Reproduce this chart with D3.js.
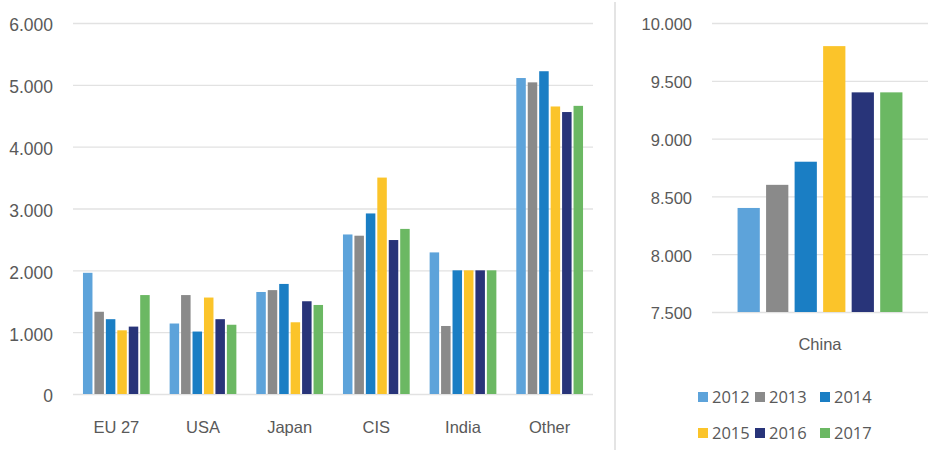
<!DOCTYPE html>
<html>
<head>
<meta charset="utf-8">
<script src="https://cdn.jsdelivr.net/npm/d3@7"></script>
<style>
  html, body { margin: 0; padding: 0; background: #fff; }
  svg { display: block; font-family: "Open Sans", "Noto Sans", sans-serif; }
  .tick text { fill: #595959; }
</style>
</head>
<body>
<svg id="chart" width="931" height="450"></svg>
<script>
// Regions on the left panel, China on its own panel
const categories = ["EU 27", "USA", "Japan", "CIS", "India", "Other"];
const years = ["2012", "2013", "2014", "2015", "2016", "2017"];

const v2012 = [1960, 1140, 1650, 2580, 2290, 5110];
const v2013 = [1330, 1600, 1680, 2560, 1100, 5040];
const v2014 = [1210, 1010, 1780, 2920, 2000, 5220];
const v2015 = [1030, 1560, 1160, 3500, 2000, 4650];
const v2016 = [1090, 1210, 1500, 2490, 2000, 4560];
const v2017 = [1600, 1120, 1440, 2670, 2000, 4660];

const chinaCategory = ["China"];
const chinaValues = [8400, 8600, 8800, 9800, 9400, 9400];

const leftTicks = [0, 1000, 2000, 3000, 4000, 5000, 6000];
const rightTicks = [7500, 8000, 8500, 9000, 9500, 10000];

const colors = ["#5DA3DA", "#8A8A8A", "#1A7EC4", "#FBC42A", "#283479", "#6BB863"];

const series = [v2012, v2013, v2014, v2015, v2016, v2017];
const svg = d3.select("#chart");
const fmt = d => d3.format(",")(d).replace(/,/g, ".");

// ---------- left panel ----------
const L = { x0: 73, x1: 593, y0: 394, y1: 23 };
const yL = d3.scaleLinear().domain([0, 6000]).range([L.y0, L.y1]);
const xL = d3.scaleBand().domain(categories).range([L.x0, L.x1])
  .paddingInner(0.23).paddingOuter(0.115);
const xL1 = d3.scaleBand().domain(years).range([0, xL.bandwidth()]).paddingInner(0.17);

const leftAxis = svg.append("g").attr("transform", `translate(${L.x0},0)`)
  .call(d3.axisLeft(yL).tickValues(leftTicks).tickFormat(fmt)
    .tickSize(-(L.x1 - L.x0)).tickPadding(20));
leftAxis.select(".domain").remove();
leftAxis.selectAll(".tick line").attr("stroke", "#e2e2e2").attr("stroke-width", 1.3);
leftAxis.selectAll(".tick text").attr("font-size", 17.5).attr("dy", "0.45em");

const groups = svg.append("g").selectAll("g").data(categories).join("g")
  .attr("transform", d => `translate(${xL(d)},0)`);
groups.selectAll("rect")
  .data((c, i) => years.map((yr, k) => ({ yr, v: series[k][i], k })))
  .join("rect")
  .attr("x", d => xL1(d.yr))
  .attr("width", xL1.bandwidth())
  .attr("y", d => yL(d.v))
  .attr("height", d => yL(0) - yL(d.v))
  .attr("fill", d => colors[d.k]);

const bottomL = svg.append("g").attr("transform", `translate(0,${L.y0})`)
  .call(d3.axisBottom(xL).tickSize(0).tickPadding(27));
bottomL.select(".domain").remove();
bottomL.selectAll(".tick text").attr("font-size", 16.5);

// ---------- separator ----------
svg.append("line").attr("x1", 615).attr("x2", 615).attr("y1", 2).attr("y2", 450)
  .attr("stroke", "#e4e4e4").attr("stroke-width", 2);

// ---------- right panel ----------
const R = { x0: 712, x1: 928, y0: 312, y1: 23 };
const yR = d3.scaleLinear().domain([7500, 10000]).range([R.y0, R.y1]);
const xR = d3.scaleBand().domain(chinaCategory).range([R.x0, R.x1])
  .paddingInner(0).paddingOuter(0.155);
const xR1 = d3.scaleBand().domain(years).range([0, xR.bandwidth()]).paddingInner(0.22);

const rightAxis = svg.append("g").attr("transform", `translate(${R.x0},0)`)
  .call(d3.axisLeft(yR).tickValues(rightTicks).tickFormat(fmt)
    .tickSize(-(R.x1 - R.x0)).tickPadding(20));
rightAxis.select(".domain").remove();
rightAxis.selectAll(".tick line").attr("stroke", "#e2e2e2").attr("stroke-width", 1.3);
rightAxis.selectAll(".tick text").attr("font-size", 16.5).attr("dy", "0.42em");

svg.append("g").attr("transform", `translate(${xR("China")},0)`)
  .selectAll("rect").data(years).join("rect")
  .attr("x", d => xR1(d))
  .attr("width", xR1.bandwidth())
  .attr("y", (d, k) => yR(chinaValues[k]))
  .attr("height", (d, k) => yR(7500) - yR(chinaValues[k]))
  .attr("fill", (d, k) => colors[k]);

const bottomR = svg.append("g").attr("transform", `translate(0,${R.y0})`)
  .call(d3.axisBottom(xR).tickSize(0).tickPadding(26));
bottomR.select(".domain").remove();
bottomR.selectAll(".tick text").attr("font-size", 16.5);

// ---------- legend ----------
const legendCols = [698, 755, 820];
const legendRows = [397, 433];
const legend = svg.append("g").selectAll("g").data(years).join("g")
  .attr("transform", (d, i) => `translate(${legendCols[i % 3]},${legendRows[Math.floor(i / 3)]})`);
legend.append("rect").attr("x", 0).attr("y", -5).attr("width", 10).attr("height", 10)
  .attr("fill", (d, i) => colors[i]);
legend.append("text").attr("x", 14).attr("y", 0).attr("dy", "0.36em")
  .attr("font-size", 16.5).attr("fill", "#595959").text(d => d);
</script>
</body>
</html>
